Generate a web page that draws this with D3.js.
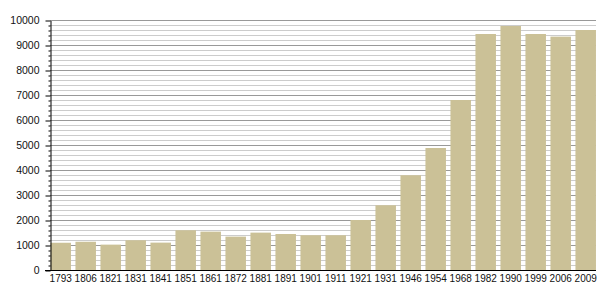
<!DOCTYPE html>
<html>
<head>
  <meta charset="utf-8">
  <title>Population</title>
  <style>
    body { margin: 0; background: #fff; }
    text { font-family: "Liberation Sans", Arial, sans-serif; fill: #111; }
  </style>
</head>
<body>
  <div id='chart'></div>
  <script src="https://d3js.org/d3.v7.min.js"></script>
  <script>

    // data
    let years = ['1793', '1806', '1821', '1831', '1841', '1851', '1861', '1872', '1881', '1891', '1901',
                 '1911', '1921', '1931', '1946', '1954', '1968', '1982', '1990', '1999', '2006', '2009'];
    let population = [1090, 1130, 1015, 1190, 1095, 1590, 1535, 1335, 1495, 1440, 1390,
                      1390, 2000, 2590, 3790, 4880, 6800, 9440, 9760, 9440, 9335, 9600];
    let majorTicks = [0, 1000, 2000, 3000, 4000, 5000, 6000, 7000, 8000, 9000, 10000];

    function translate(x, y) {
      return 'translate(' + x + ',' + y + ')';
    }

    let svgWidth = 605;
    let svgHeight = 300;
    let plot = {left: 50, right: 596, top: 20, bottom: 270};

    let svg = d3.select('#chart')
      .append('svg')
      .attr('width', svgWidth)
      .attr('height', svgHeight);

    let x = d3.scaleBand()
      .domain(years)
      .range([48.2, 598.2])
      .paddingInner(0.18)
      .paddingOuter(0.09);

    let y = d3.scaleLinear()
      .domain([0, 10000])
      .range([plot.bottom, plot.top]);

    // gridlines: minor every 200, major every 1000
    let minor = d3.range(200, 10001, 200).filter(v => v % 1000 !== 0);
    svg.append('g')
      .selectAll('line')
      .data(minor)
      .enter()
      .append('line')
      .attr('x1', plot.left)
      .attr('x2', plot.right)
      .attr('y1', d => y(d) + 0.5)
      .attr('y2', d => y(d) + 0.5)
      .style('stroke', '#cccccc')
      .style('stroke-width', 1);

    svg.append('g')
      .selectAll('line')
      .data(majorTicks.slice(1))
      .enter()
      .append('line')
      .attr('x1', plot.left)
      .attr('x2', plot.right)
      .attr('y1', d => y(d) + 0.5)
      .attr('y2', d => y(d) + 0.5)
      .style('stroke', '#999999')
      .style('stroke-width', 1);

    // bars
    svg.append('g')
      .selectAll('rect')
      .data(years)
      .enter()
      .append('rect')
      .attr('x', d => x(d))
      .attr('width', x.bandwidth())
      .attr('y', (d, i) => y(population[i]))
      .attr('height', (d, i) => y(0) - y(population[i]))
      .style('fill', '#cbc197');

    // y axis with minor ticks
    let minorAxis = svg.append('g')
      .attr('transform', translate(plot.left + 0.5, 0.5))
      .call(d3.axisLeft(y).tickValues(minor).tickSize(2).tickFormat(''));
    minorAxis.select('.domain').remove();
    minorAxis.selectAll('line').style('stroke', '#000');

    let yAxis = svg.append('g')
      .attr('transform', translate(plot.left + 0.5, 0.5))
      .call(d3.axisLeft(y).tickValues(majorTicks).tickSize(5).tickPadding(6).tickSizeOuter(0).tickFormat(d3.format('d')));
    yAxis.selectAll('text').style('font-size', '10.5px').attr('font-family', null);
    yAxis.selectAll('line').style('stroke', '#000');
    yAxis.select('.domain').style('stroke', '#000');

    // x axis
    let xAxis = svg.append('g')
      .attr('transform', translate(0, plot.bottom + 0.5))
      .call(d3.axisBottom(x).tickSize(0).tickPadding(4));
    xAxis.select('.domain').attr('d', 'M' + (plot.left - 5) + ',0H' + plot.right).style('stroke', '#000');
    xAxis.selectAll('text').style('font-size', '10px').attr('font-family', null);

  </script>
</body>
</html>
